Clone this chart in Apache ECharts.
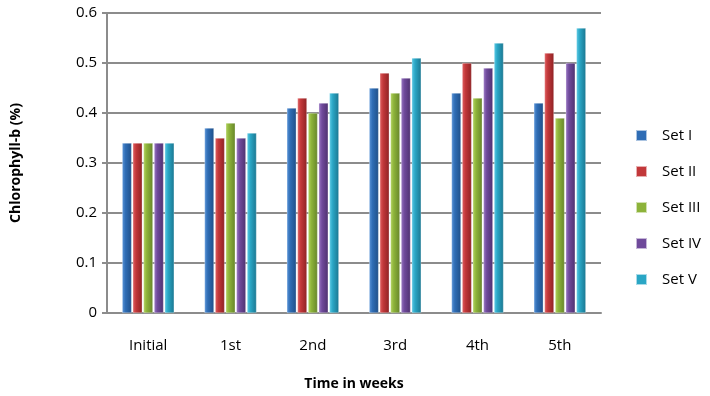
<!DOCTYPE html>
<html>
<head>
<meta charset="utf-8">
<script src="https://cdn.jsdelivr.net/npm/echarts@6/dist/echarts.min.js"></script>
<style>
  html, body { margin: 0; padding: 0; background: #fff; }
  #chart { width: 710px; height: 396px; }
</style>
</head>
<body>
<div id="chart"></div>
<script>
const weeks = ['Initial', '1st', '2nd', '3rd', '4th', '5th'];
const setNames = ['Set I', 'Set II', 'Set III', 'Set IV', 'Set V'];

const setI   = [0.34, 0.37, 0.41, 0.45, 0.44, 0.42];
const setII  = [0.34, 0.35, 0.43, 0.48, 0.50, 0.52];
const setIII = [0.34, 0.38, 0.40, 0.44, 0.43, 0.39];
const setIV  = [0.34, 0.35, 0.42, 0.47, 0.49, 0.50];
const setV   = [0.34, 0.36, 0.44, 0.51, 0.54, 0.57];

const yTicks = [0, 0.1, 0.2, 0.3, 0.4, 0.5, 0.6];

// light edge, main colour, dark edge for each set
const palette = [
  ['#5b95d8', '#2f6db5', '#1f4f88'],
  ['#e06062', '#c2383a', '#8e2224'],
  ['#b3d460', '#8db33a', '#66852a'],
  ['#9a78c4', '#6f4a9b', '#4e3170'],
  ['#5ccbe6', '#2aa6c5', '#1a7690']
];

const allSets = [setI, setII, setIII, setIV, setV];

function barColor(c) {
  return new echarts.graphic.LinearGradient(0, 0, 1, 0, [
    { offset: 0, color: c[0] },
    { offset: 0.35, color: c[1] },
    { offset: 1, color: c[2] }
  ]);
}

var chartDom = document.getElementById('chart');
var myChart = echarts.init(chartDom);

var series = allSets.map(function (vals, i) {
  return {
    name: setNames[i],
    type: 'bar',
    data: vals,
    barWidth: 9.5,
    barGap: '12%',
    itemStyle: {
      color: barColor(palette[i]),
      borderColor: 'rgba(255,255,255,0.6)',
      borderWidth: 0.5
    }
  };
});

option = {
  animation: false,
  textStyle: { fontFamily: 'Open Sans' },
  grid: { left: 107, right: 109, top: 13, bottom: 81 },
  legend: {
    orient: 'vertical',
    left: 630,
    top: 123,
    itemWidth: 11,
    itemHeight: 11,
    itemGap: 21,
    icon: 'rect',
    data: setNames.map(function (n, i) {
      return { name: n, itemStyle: { color: palette[i][1] } };
    }),
    textStyle: { fontSize: 15, color: '#000', padding: [0, 0, 0, 10] }
  },
  xAxis: {
    type: 'category',
    data: weeks,
    name: 'Time in weeks',
    nameLocation: 'middle',
    nameGap: 64,
    nameTextStyle: { fontSize: 14, fontWeight: 'bold', color: '#000' },
    axisLine: { lineStyle: { color: '#8c8c8c', width: 2 } },
    axisTick: { show: false },
    axisLabel: { fontSize: 15, color: '#000', margin: 25 }
  },
  yAxis: {
    type: 'value',
    min: yTicks[0],
    max: yTicks[yTicks.length - 1],
    interval: 0.1,
    name: 'Chlorophyll-b (%)',
    nameLocation: 'middle',
    nameGap: 84,
    nameTextStyle: { fontSize: 14, fontWeight: 'bold', color: '#000' },
    axisLine: { show: true, lineStyle: { color: '#8c8c8c', width: 2 } },
    axisTick: { show: true, inside: false, length: 5, lineStyle: { color: '#8c8c8c', width: 2 } },
    splitLine: { lineStyle: { color: '#8c8c8c', width: 2 } },
    axisLabel: {
      fontSize: 15,
      color: '#000',
      margin: 10,
      formatter: function (v) { return String(+v.toFixed(1)); }
    }
  },
  series: series
};

myChart.setOption(option);
</script>
</body>
</html>
